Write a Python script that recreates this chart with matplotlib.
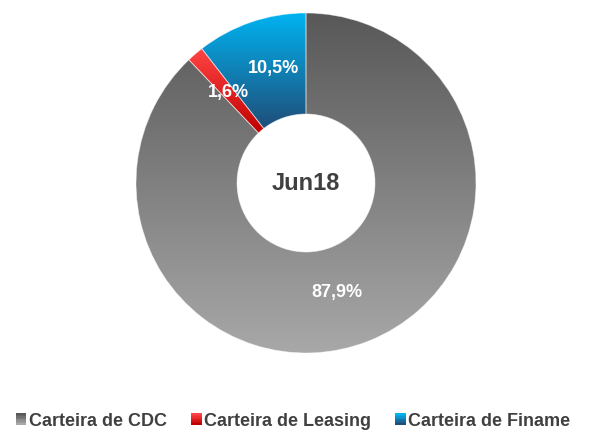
import matplotlib.pyplot as plt
import numpy as np
from matplotlib.colors import LinearSegmentedColormap, to_rgb
from matplotlib.patches import Patch, Rectangle
from matplotlib.legend_handler import HandlerBase

plt.rcParams['font.family'] = ['Liberation Sans', 'DejaVu Sans']

# data
categories = ['Carteira de CDC', 'Carteira de Leasing', 'Carteira de Finame']
shares = [87.9, 1.6, 10.5]
labels = ['87,9%', '1,6%', '10,5%']
center_label = 'Jun18'

# gradient colours (top, bottom)
grad_top = ['#585858', '#ff4545', '#00b4f2']
grad_bottom = ['#a8a8a8', '#c00000', '#1f4e79']
# small nudges of label angle (deg) to sit like the original
label_nudge = [-6, 0, -3]


class GradientHandler(HandlerBase):
    def __init__(self, top, bot):
        super().__init__()
        self.top = np.array(to_rgb(top))
        self.bot = np.array(to_rgb(bot))

    def create_artists(self, legend, orig_handle, xdescent, ydescent,
                       width, height, fontsize, trans):
        n = 8
        side = min(width, height)
        x0 = -xdescent + (width - side) / 2
        y0 = -ydescent + (height - side) / 2
        arts = []
        for i in range(n):
            f = i / (n - 1)
            col = self.bot * (1 - f) + self.top * f
            r = Rectangle((x0, y0 + side * i / n), side, side / n + 0.3,
                          facecolor=col, edgecolor='none', transform=trans)
            arts.append(r)
        return arts


fig = plt.figure(figsize=(5.96, 4.30), dpi=100)
ax = fig.add_axes([0, 0, 1, 1])

cx, cy = 306, 430 - 183
r_out, r_in = 170, 69

wedges, texts = ax.pie(shares, radius=r_out, center=(cx, cy), startangle=90,
                       counterclock=False,
                       wedgeprops=dict(width=r_out - r_in, linewidth=0.6,
                                       edgecolor=(1, 1, 1, 0.5)))

for w, top, bot in zip(wedges, grad_top, grad_bottom):
    ext = w.get_path().get_extents()
    cmap = LinearSegmentedColormap.from_list('g', [bot, top])
    grad = np.linspace(0, 1, 256).reshape(-1, 1)
    im = ax.imshow(grad, cmap=cmap, origin='lower', aspect='auto',
                   extent=[ext.x0, ext.x1, ext.y0, ext.y1], zorder=1)
    im.set_clip_path(w)
    w.set_facecolor('none')
    w.set_zorder(2)

# percentage labels
r_lab = [114, 119, 119]
start = 90.0
for val, lab, nudge, rl in zip(shares, labels, label_nudge, r_lab):
    mid = start - val / 100 * 360 / 2 + nudge
    start -= val / 100 * 360
    th = np.deg2rad(mid)
    ax.text(cx + rl * np.cos(th), cy + rl * np.sin(th), lab,
            ha='center', va='center', color='white', fontsize=13,
            fontweight='bold', zorder=3)

ax.text(cx, cy, center_label, ha='center', va='center', color='#404040',
        fontsize=17, fontweight='bold', zorder=3)

handles = [Patch(label=c) for c in categories]
hmap = {h: GradientHandler(t, b) for h, t, b in zip(handles, grad_top, grad_bottom)}
leg = ax.legend(handles, categories, loc='center', bbox_to_anchor=(293, 430 - 421),
                bbox_transform=ax.transData, ncol=3, frameon=False,
                prop=dict(size=13, weight='bold'), handlelength=0.6,
                handleheight=0.6, handletextpad=0.15, columnspacing=1.3,
                handler_map=hmap)
for t in leg.get_texts():
    t.set_color('#404040')

ax.set_xlim(0, 596)
ax.set_ylim(0, 430)
ax.set_aspect('equal')
ax.axis('off')

plt.savefig('out.png', dpi=100)
